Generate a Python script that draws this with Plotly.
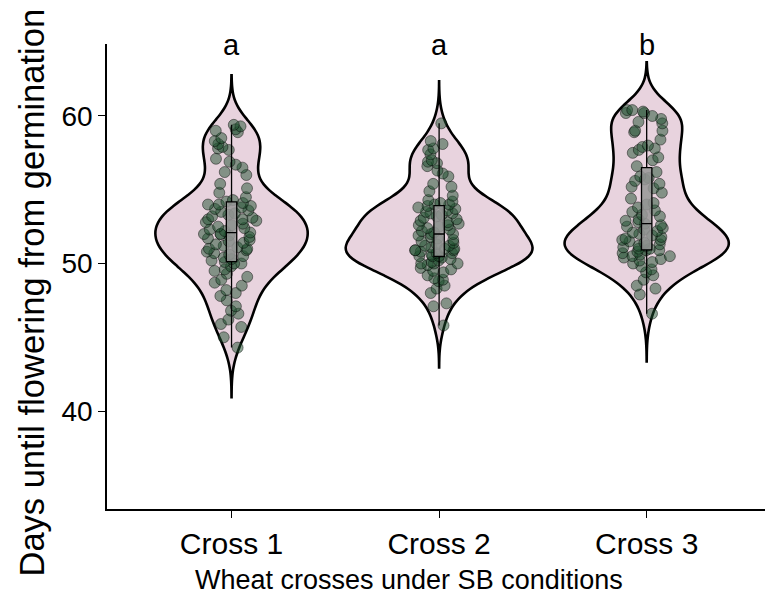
import plotly.graph_objects as go

categories = ["Cross 1", "Cross 2", "Cross 3"]

cross1_days = [
    59.4, 59.3, 59.1, 59.0, 58.9, 58.5, 58.3, 58.1, 57.9, 57.8, 57.7,
    57.1, 56.9, 56.7, 56.5, 56.2, 56.0, 55.4, 55.1,
    54.8, 54.5, 54.3, 54.2, 54.1, 54.0, 54.0, 53.9, 53.8, 53.7,
    53.6, 53.5, 53.4, 53.3, 53.2, 53.1, 53.0, 53.0, 52.9, 52.8, 52.7, 52.6, 52.5, 52.4,
    52.3, 52.2, 52.1, 52.0, 52.0, 52.0,
    51.9, 51.8, 51.7, 51.6, 51.5, 51.4, 51.3, 51.2, 51.1, 51.0, 51.0, 50.9, 50.8, 50.7,
    50.6, 50.5, 50.4, 50.3, 50.2, 50.1, 50.0, 50.0,
    49.8, 49.6, 49.5, 49.3, 49.1, 48.9, 48.7, 48.5, 48.2, 48.0,
    47.8, 47.5, 47.1, 46.8, 46.6, 46.2, 45.9, 45.7,
    45.0, 44.3,
]

cross2_days = [
    59.5, 58.3, 58.1, 57.8, 57.7, 57.4,
    57.0, 56.9, 56.8, 56.6, 56.3, 56.1, 55.9, 55.4, 55.2,
    54.9, 54.6, 54.3, 54.2, 54.1, 54.0, 54.0,
    53.9, 53.8, 53.7, 53.6, 53.5, 53.4, 53.3, 53.2, 53.1, 53.0, 52.9, 52.8, 52.7, 52.6,
    52.5, 52.4, 52.3, 52.2, 52.1, 52.0, 52.0, 53.4, 52.6,
    51.9, 51.8, 51.7, 51.6, 51.5, 51.4, 51.3, 51.2, 51.1, 51.0, 51.0, 50.9, 50.9, 50.8,
    50.7, 50.6, 50.5, 50.5, 50.4, 50.3, 50.2, 50.1, 50.0, 50.0, 50.0,
    51.2, 50.9, 50.7, 50.5,
    49.9, 49.7, 49.6, 49.5, 49.4, 49.2, 49.0, 48.9, 48.8, 48.5, 48.3, 48.0,
    47.3, 47.1, 45.8,
]

cross3_days = [
    60.4, 60.4, 60.3, 60.2, 60.2, 60.0, 59.8, 59.6, 59.5, 59.0, 59.0, 58.9,
    58.4, 58.0, 57.9, 57.8, 57.7, 57.5, 57.2, 57.0,
    56.6, 56.2, 55.9, 55.8, 55.7, 55.6, 55.4, 55.2, 55.1,
    54.8, 54.4, 54.1, 54.0, 53.8, 53.6, 53.5, 53.3, 53.2, 53.0,
    52.9, 52.8, 52.7, 52.6, 52.5, 52.4, 52.3, 52.2, 52.1, 52.0,
    51.9, 51.8, 51.7, 51.6, 51.6, 51.5, 51.4, 51.3, 51.2, 51.2, 51.1, 51.0, 51.0,
    50.9, 50.9, 50.8, 50.7, 50.6, 50.5, 50.5, 50.4, 50.3, 50.2, 50.1, 50.0,
    49.8, 49.6, 49.4, 49.2, 48.9, 48.5, 48.3,
    47.9, 46.6,
]

significance_letters = ["a", "a", "b"]
y_tick_values = [40, 50, 60]
kde_bandwidths = [1.12, 0.95, 1.08]

FONT = "Liberation Sans, Arial, Helvetica, sans-serif"
series = [cross1_days, cross2_days, cross3_days]

fig = go.Figure()

# violins
for cat, vals, bw in zip(categories, series, kde_bandwidths):
    fig.add_trace(go.Violin(
        x=[cat] * len(vals), y=vals, name=cat,
        scalegroup="all", scalemode="width",
        bandwidth=bw, spanmode="manual",
        span=[min(vals) - 3 * bw, max(vals) + 3 * bw],
        fillcolor="#E8D3DE", line=dict(color="black", width=2.6),
        points=False, box_visible=False, meanline_visible=False,
        hoverinfo="skip", showlegend=False,
    ))

# jittered points
for cat, vals in zip(categories, series):
    fig.add_trace(go.Box(
        x=[cat] * len(vals), y=vals, name=cat,
        boxpoints="all", jitter=1, pointpos=0, width=0.27,
        fillcolor="rgba(0,0,0,0)", line=dict(width=0, color="rgba(0,0,0,0)"),
        marker=dict(size=11, color="rgba(30,80,45,0.5)",
                    line=dict(color="rgba(0,0,0,0.55)", width=0.8)),
        hoverinfo="y", showlegend=False,
    ))

# small boxplots
for cat, vals in zip(categories, series):
    fig.add_trace(go.Box(
        x=[cat] * len(vals), y=vals, name=cat,
        boxpoints=False, width=0.05, whiskerwidth=0,
        fillcolor="rgba(150,150,150,0.85)", line=dict(color="black", width=1.3),
        showlegend=False,
    ))

annotations = []
for cat, letter in zip(categories, significance_letters):
    annotations.append(dict(x=cat, y=64.8, xref="x", yref="y", text=letter,
                            showarrow=False, yanchor="middle",
                            font=dict(size=29, family=FONT, color="black")))
# x-axis title
annotations.append(dict(x=0, y=0, xref="paper", yref="paper",
                        xanchor="center", yanchor="middle",
                        xshift=302, yshift=-71, showarrow=False,
                        text="Wheat crosses under SB conditions",
                        font=dict(size=27, family=FONT, color="black")))
# y-axis title
annotations.append(dict(x=0, y=0.5, xref="paper", yref="paper", xanchor="center",
                        yanchor="middle", xshift=-76, yshift=-16, textangle=-90,
                        showarrow=False,
                        text="Days until flowering from germination",
                        font=dict(size=34.5, family=FONT, color="black")))

fig.update_layout(
    width=765, height=604,
    margin=dict(l=107, r=0, t=44, b=95),
    plot_bgcolor="white", paper_bgcolor="white",
    violinmode="overlay", boxmode="overlay",
    violingap=0.1, violingroupgap=0,
    showlegend=False,
    font=dict(family=FONT, color="black"),
    annotations=annotations,
)
fig.update_xaxes(
    type="category", categoryorder="array", categoryarray=categories,
    range=[-0.6, 2.57], automargin=False,
    showline=True, linecolor="black", linewidth=1.5,
    ticks="outside", ticklen=7, tickwidth=1.3, tickcolor="black",
    showgrid=False, zeroline=False,
    tickfont=dict(size=30, family=FONT, color="black"),
)
fig.update_yaxes(
    range=[33.36, 64.88], tickvals=y_tick_values, automargin=False,
    showline=True, linecolor="black", linewidth=1.5,
    ticks="outside", ticklen=7, tickwidth=1.3, tickcolor="black",
    showgrid=False, zeroline=False,
    tickfont=dict(size=28, family=FONT, color="black"),
)

fig.write_html("out.html", config={"displayModeBar": False},
               post_script="document.body.style.margin='0';")
